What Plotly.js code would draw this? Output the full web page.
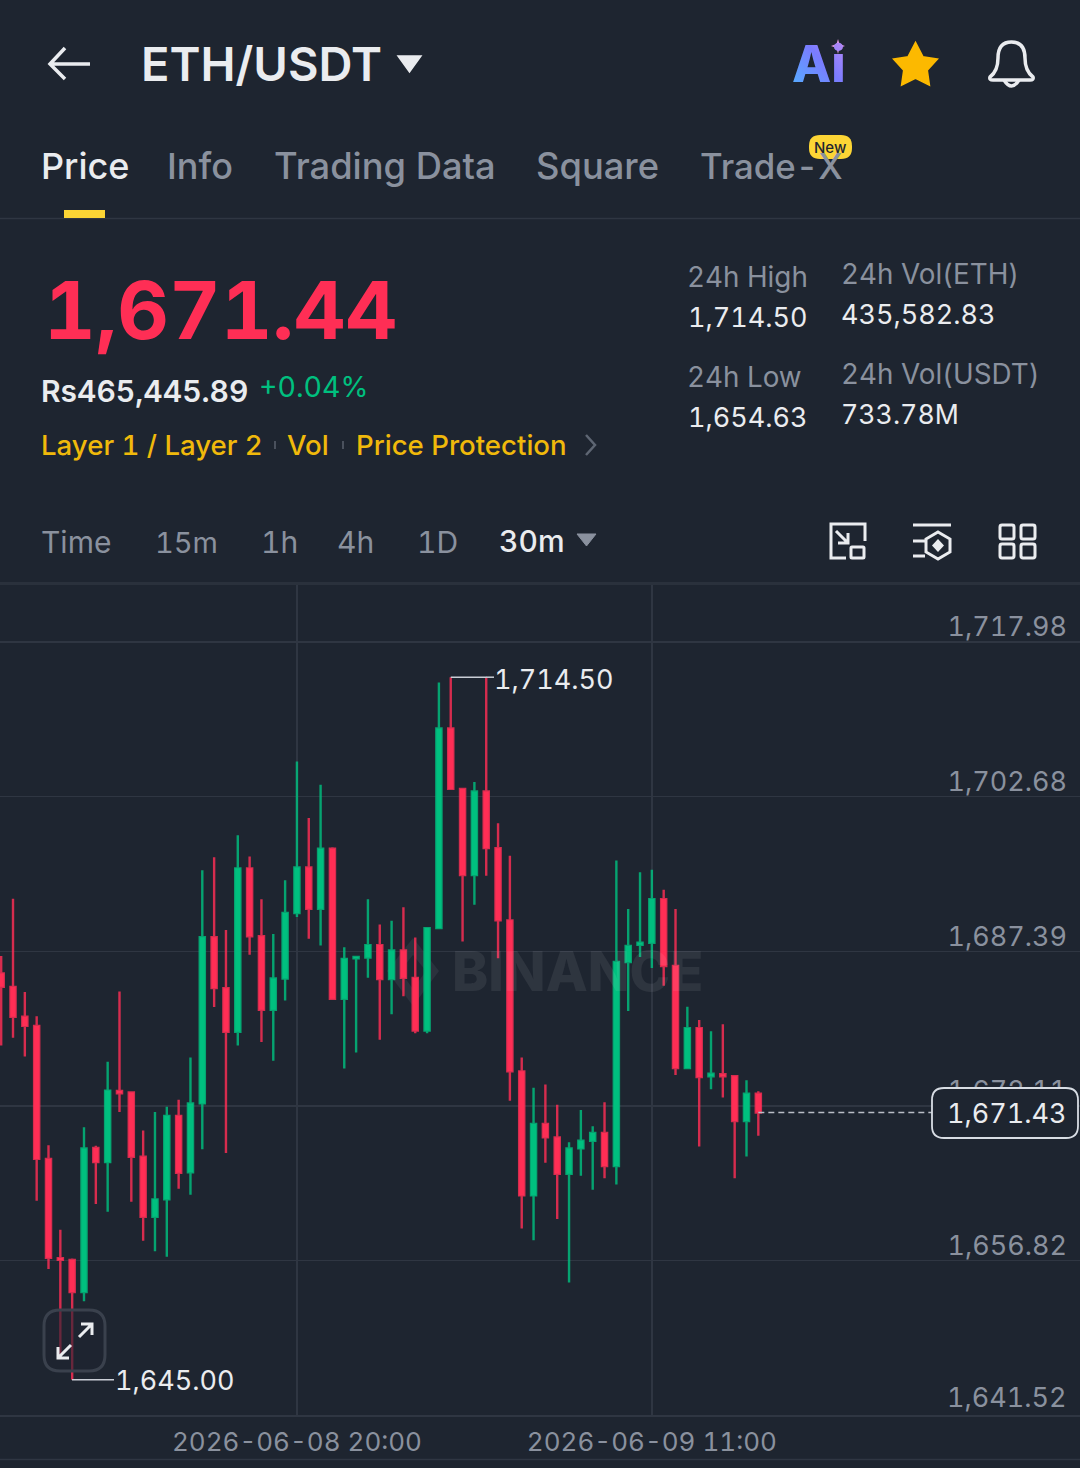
<!DOCTYPE html>
<html>
<head>
<meta charset="utf-8">
<script src="https://cdn.plot.ly/plotly-3.0.1.min.js"></script>
<style>html,body{margin:0;padding:0;background:#1e2530;overflow:hidden}#chart{width:1080px;height:1468px}
text{font-variant-numeric:tabular-nums;font-feature-settings:"tnum" 1}</style>
</head>
<body>
<div id="chart"></div>
<script>
const times = [
"2026-06-08 07:30","2026-06-08 08:00","2026-06-08 08:30","2026-06-08 09:00","2026-06-08 09:30","2026-06-08 10:00","2026-06-08 10:30",
"2026-06-08 11:00","2026-06-08 11:30","2026-06-08 12:00","2026-06-08 12:30","2026-06-08 13:00","2026-06-08 13:30","2026-06-08 14:00",
"2026-06-08 14:30","2026-06-08 15:00","2026-06-08 15:30","2026-06-08 16:00","2026-06-08 16:30","2026-06-08 17:00","2026-06-08 17:30",
"2026-06-08 18:00","2026-06-08 18:30","2026-06-08 19:00","2026-06-08 19:30","2026-06-08 20:00","2026-06-08 20:30","2026-06-08 21:00",
"2026-06-08 21:30","2026-06-08 22:00","2026-06-08 22:30","2026-06-08 23:00","2026-06-08 23:30","2026-06-09 00:00","2026-06-09 00:30",
"2026-06-09 01:00","2026-06-09 01:30","2026-06-09 02:00","2026-06-09 02:30","2026-06-09 03:00","2026-06-09 03:30","2026-06-09 04:00",
"2026-06-09 04:30","2026-06-09 05:00","2026-06-09 05:30","2026-06-09 06:00","2026-06-09 06:30","2026-06-09 07:00","2026-06-09 07:30",
"2026-06-09 08:00","2026-06-09 08:30","2026-06-09 09:00","2026-06-09 09:30","2026-06-09 10:00","2026-06-09 10:30","2026-06-09 11:00",
"2026-06-09 11:30","2026-06-09 12:00","2026-06-09 12:30","2026-06-09 13:00","2026-06-09 13:30","2026-06-09 14:00","2026-06-09 14:30",
"2026-06-09 15:00","2026-06-09 15:30"];
const open = [1685.19,1683.87,1680.92,1680.01,1666.85,1657.04,1656.86,1653.68,1667.94,1666.53,1673.57,1673.43,1667.07,1661.12,1662.85,1671.11,1665.53,1672.34,1688.78,1683.74,1679.42,1695.59,1688.87,1681.60,1684.69,1691.18,1695.68,1691.59,1697.54,1682.69,1686.69,1686.78,1688.00,1684.64,1687.46,1684.76,1679.55,1689.68,1709.42,1703.45,1694.93,1703.20,1697.59,1690.45,1675.51,1663.24,1670.31,1668.98,1665.38,1667.89,1668.65,1669.42,1666.15,1686.33,1688.03,1688.23,1692.55,1685.93,1675.84,1679.79,1675.03,1675.23,1675.03,1670.59,1673.29];
const high = [1686.91,1692.59,1683.37,1680.97,1668.21,1659.85,1656.99,1669.98,1668.16,1676.47,1683.42,1673.47,1669.66,1671.48,1672.02,1672.70,1676.88,1695.40,1696.68,1689.50,1698.86,1696.77,1692.54,1689.09,1694.41,1706.17,1700.58,1703.85,1697.68,1687.78,1686.87,1692.54,1690.05,1690.41,1691.74,1688.75,1689.68,1713.98,1714.50,1703.45,1704.13,1714.50,1700.05,1696.83,1676.89,1673.90,1674.22,1672.20,1668.49,1671.68,1670.07,1672.45,1696.38,1691.58,1695.21,1695.45,1693.48,1691.58,1681.89,1680.60,1679.47,1680.16,1675.11,1674.63,1673.54];
const low = [1678.06,1678.83,1676.97,1662.71,1655.95,1647.19,1645.00,1652.77,1662.40,1661.62,1671.48,1662.62,1658.76,1657.72,1657.17,1663.89,1663.30,1667.80,1681.87,1667.44,1678.06,1687.05,1678.42,1676.56,1682.51,1690.77,1688.64,1687.96,1682.69,1675.79,1677.38,1684.78,1678.65,1681.15,1682.94,1679.27,1679.27,1689.68,1703.45,1688.35,1691.98,1694.85,1686.69,1672.61,1659.97,1658.80,1666.47,1660.90,1654.63,1665.18,1663.81,1664.94,1664.33,1681.49,1686.82,1685.73,1683.99,1675.15,1675.84,1668.09,1673.74,1672.93,1664.94,1667.08,1669.14];
const close = [1683.87,1680.92,1680.01,1666.85,1657.08,1656.86,1653.68,1667.89,1666.53,1673.61,1673.34,1667.07,1661.12,1662.85,1671.11,1665.48,1672.34,1688.78,1683.74,1679.42,1695.59,1688.87,1681.60,1684.69,1691.18,1695.68,1691.59,1697.54,1682.69,1686.64,1686.82,1688.00,1684.64,1687.46,1684.76,1679.55,1689.68,1709.42,1703.45,1694.93,1703.20,1697.59,1690.45,1675.51,1663.24,1670.31,1668.98,1665.38,1667.89,1668.65,1669.42,1666.15,1686.33,1687.91,1688.23,1692.55,1685.93,1675.84,1679.79,1674.95,1675.27,1675.03,1670.59,1673.29,1671.43];
const priceTicks = [1717.98,1702.68,1687.39,1672.11,1656.82,1641.52];
const priceLabels = ["1,717.98","1,702.68","1,687.39","1,672.11","1,656.82","1,641.52"];
const timeTicks = ["2026-06-08 20:00","2026-06-09 11:00"];
const lastPrice = 1671.43;
const highPrice = 1714.50, lowPrice = 1645.00;

const BG='#1e2530', RED='#ff2e55', GREEN='#00c07f', GRID='#2f3642', WHITE='#eaecef', GRAY='#8a919e', GOLD='#f0b90b', YEL='#fcd535';
const FONT='Inter, "Open Sans", sans-serif';
const W=1080,H=1468;
const px=x=>x/W, py=y=>1-y/H;
// convert an SVG path in page pixels to paper coordinates
function path(d){
  const toks=d.trim().split(/\s+/);let out=[],isX=true;
  for(const t of toks){
    if(/^[A-Za-z]$/.test(t)){out.push(t);isX=true;}
    else{const v=parseFloat(t);out.push((isX?px(v):py(v)).toFixed(5));isX=!isX;}
  }
  return out.join(' ');
}
function rr(x0,y0,x1,y1,r){
  return `M ${x0+r} ${y0} L ${x1-r} ${y0} Q ${x1} ${y0} ${x1} ${y0+r} L ${x1} ${y1-r} Q ${x1} ${y1} ${x1-r} ${y1} L ${x0+r} ${y1} Q ${x0} ${y1} ${x0} ${y1-r} L ${x0} ${y0+r} Q ${x0} ${y0} ${x0+r} ${y0} Z`;
}
const S=(d,stroke,w,fill,extra)=>Object.assign({type:'path',xref:'paper',yref:'paper',path:path(d),
  line:{color:stroke||'rgba(0,0,0,0)',width:w||0},fillcolor:fill||'rgba(0,0,0,0)',layer:'above'},extra||{});
const T=(text,x,y,size,color,o)=>{
  const anchor=(o&&o.xanchor)||'left';
  return {xref:'paper',yref:'paper',x:px(anchor==='left'?x-2:x),y:py(y),text,showarrow:false,xanchor:anchor,yanchor:'middle',
    font:{family:FONT,size,color,weight:(o&&o.weight)||400},borderpad:0};
};

const annotations=[
  T('ETH/USDT',142,63.5,47,WHITE,{weight:600}),
  T('Ai',793,64,51,'#6f8cff',{weight:800}),
  T('Price',42,166,36,WHITE,{weight:500}),
  T('Info',168,166,36,GRAY,{weight:500}),
  T('Trading Data',275,166,36.3,GRAY,{weight:500}),
  T('Square',537,166,36.3,GRAY,{weight:500}),
  T('Trade-X',701,166,34.8,GRAY,{weight:500}),
  T('New',830.5,147,15,'#1e2530',{weight:500,xanchor:'center'}),
  T('1,671.44',45,310,80,RED,{weight:700}),
  T('Rs465,445.89',42,391,30,WHITE,{weight:600}),
  T('+0.04%',260,387,28.5,GREEN,{weight:400}),
  T('Layer 1 / Layer 2',42,445,27.6,GOLD,{weight:500}),
  T('Vol',288,445,27.6,GOLD,{weight:500}),
  T('Price Protection',357,445,27.6,GOLD,{weight:500}),
  T('24h High',688,277,27.8,GRAY),
  T('1,714.50',689,317,27,WHITE),
  T('24h Low',688,377,27.8,GRAY),
  T('1,654.63',689,417,27,WHITE),
  T('24h Vol(ETH)',842,274,27.8,GRAY),
  T('435,582.83',842,314,27,WHITE),
  T('24h Vol(USDT)',842,374,27.8,GRAY),
  T('733.78M',842,414,26.7,WHITE),
  T('Time',42,542,30,GRAY),
  T('15m',156,542,29,GRAY),
  T('1h',262,542,30,GRAY),
  T('4h',338,542,30,GRAY),
  T('1D',418,542,30,GRAY),
  T('30m',500,541,30,WHITE,{weight:500}),
  T('BINANCE',453,971,54.6,'rgba(255,255,255,0.075)',{weight:800}),
  T('1,671.43',948,1113.5,27,WHITE),
  Object.assign(T('1,714.50',495,0,27,WHITE),{yref:'y',y:highPrice,yshift:-2}),
  Object.assign(T('1,645.00',116,0,27,WHITE),{yref:'y',y:lowPrice,yshift:-1}),
  {xref:'paper',yref:'y',x:px(1068),y:priceTicks[5],yshift:18,text:priceLabels[5],showarrow:false,xanchor:'right',yanchor:'middle',
    borderpad:0,font:{family:FONT,size:27,color:GRAY}}
];

const shapes=[
  // header rules and tab marker
  S('M 0 218.5 L 1080 218.5',GRID,1.5),
  S('M 64 210 L 105 210 L 105 218 L 64 218 Z',null,0,YEL),
  S('M 0 583.5 L 1080 583.5','#2a313c',3),
  S('M 0 1459.5 L 1080 1459.5',GRID,1.5),
  // back arrow
  S('M 50 64 L 90 64 M 65 48 L 50 64 L 65 79',WHITE,3.5),
  // title caret
  S('M 398 56 L 421 56 L 409.5 72 Z',WHITE,1.5,WHITE),
  // sparkle
  S('M 838 39 L 839.5 44 L 845 46 L 839.5 48 L 838 54 L 836.5 48 L 831 46 L 836.5 44 Z',null,0,'#e39be0'),
  // star
  S('M 915.5 44 L 922.5 57.5 L 936 59.5 L 926.5 70 L 928.5 84 L 915.5 77.5 L 902.5 84 L 904.5 70 L 895 59.5 L 908.5 57.5 Z','#fcb900',3,'#fcb900'),
  // bell
  S('M 990 77 Q 998 71 998 58 Q 998 42 1011.5 42 Q 1025 42 1025 58 Q 1025 71 1033 77 Q 1034 80 1030 80 L 993 80 Q 989 80 990 77 Z',WHITE,3.5),
  S('M 1004 80 Q 1011.5 92 1019 80',WHITE,3.5),
  // New badge
  S(rr(809,135,852,159,11),null,0,YEL),
  // separators and chevrons
  S('M 275 441 L 275 449',"#4a515d",2),
  S('M 343 441 L 343 449',"#4a515d",2),
  S('M 586 435 L 595 445 L 586 455','#5e6673',2.5),
  S('M 577 534 L 596 534 L 586.5 546 Z',GRAY,1,GRAY),
  // toolbar icons
  S('M 865 541 L 865 524 L 831 524 L 831 558 L 846 558',WHITE,3),
  S('M 836 531 L 848 543 M 848 533 L 848 543 L 838 543',WHITE,3),
  S(rr(851,547,864,558,1),WHITE,3),
  S('M 913 525 L 951 525 M 913 541 L 925 541 M 913 556 L 925 556',WHITE,3),
  S('M 938 532 L 950 539 L 950 552 L 938 559 L 926 552 L 926 539 Z',WHITE,3),
  S('M 938 539 L 944 545.5 L 938 552 L 932 545.5 Z',null,0,WHITE),
  S(rr(1000,525,1014,539,2),WHITE,3),
  S(rr(1021,525,1035,539,2),WHITE,3),
  S(rr(1000,544,1014,558,2),WHITE,3),
  S(rr(1021,544,1035,558,2),WHITE,3),
  // watermark logo, behind the candles
  S('M 413 938 L 439 971 L 413 1006 L 387 971 Z M 413 955 L 426 971 L 413 989 L 400 971 Z',null,0,'#2b323d',{layer:'below',fillrule:'evenodd'}),
  // high / low leader lines
  {type:'line',xref:'x',yref:'y',x0:times[38],x1:times[41],y0:highPrice,y1:highPrice,line:{color:'#c9ced6',width:1.5},layer:'above'},
  {type:'line',xref:'paper',yref:'y',x0:px(486),x1:px(494),y0:highPrice,y1:highPrice,line:{color:'#c9ced6',width:1.5},layer:'above'},
  {type:'line',xref:'paper',yref:'y',x0:px(72),x1:px(114),y0:lowPrice,y1:lowPrice,line:{color:'#c9ced6',width:1.5},layer:'above'},
  // last price
  {type:'line',xref:'x',yref:'y',x0:times[64],x1:'2026-06-10 00:10',y0:lastPrice,y1:lastPrice,line:{color:'#b9bec6',width:1.5,dash:'6px,4px'},layer:'above'},
  S(rr(932,1088,1078,1138,12),'#d8dde4',1.8,BG),
  // expand button
  S(rr(44,1310,105,1371,16),'#3a414d',3,'rgba(30,37,48,0.6)'),
  S('M 58 1358 L 71 1345 M 58 1347 L 58 1358 L 69 1358',WHITE,3),
  S('M 79 1337 L 92 1324 M 81 1324 L 92 1324 L 92 1335',WHITE,3)
];

const trace={type:'candlestick',x:times,open,high,low,close,
  increasing:{line:{color:'rgba(0,192,127,0.82)',width:2.4},fillcolor:GREEN},
  decreasing:{line:{color:'rgba(255,46,85,0.82)',width:2.4},fillcolor:RED},
  whiskerwidth:0,hoverinfo:'skip',showlegend:false};

const layout={
  width:W,height:H,autosize:false,
  margin:{l:0,r:0,t:0,b:0,pad:0},
  paper_bgcolor:BG,plot_bgcolor:BG,boxgap:0.38,showlegend:false,dragmode:false,
  font:{family:FONT},
  xaxis:{type:'date',range:['2026-06-08 07:27:00','2026-06-10 05:05:42'],domain:[0,1],
    rangeslider:{visible:false},tickmode:'array',tickvals:timeTicks,tickformat:'%Y-%m-%d %H:%M',
    showgrid:true,gridcolor:GRID,gridwidth:1.5,showline:true,linecolor:GRID,linewidth:1.5,zeroline:false,
    ticks:'',ticklabelstandoff:3,tickfont:{family:FONT,size:26,color:GRAY}},
  yaxis:{range:[1641.52,1723.62],domain:[(H-1415)/H,(H-585)/H],side:'right',
    tickmode:'array',tickvals:priceTicks,ticktext:priceLabels,ticklabelposition:'inside',ticklabelstandoff:10,ticklabelshift:-15,
    showgrid:true,gridcolor:GRID,gridwidth:1.5,showline:false,zeroline:false,ticks:'',
    tickfont:{family:FONT,size:27,color:GRAY}},
  annotations,shapes
};
Plotly.newPlot('chart',[trace],layout,{staticPlot:true,displayModeBar:false}).then(()=>{
  const svg=document.querySelector('#chart .main-svg');
  const ns='http://www.w3.org/2000/svg';
  const defs=svg.querySelector('defs');
  const g=document.createElementNS(ns,'linearGradient');
  g.setAttribute('id','aiGrad');g.setAttribute('x1','0');g.setAttribute('y1','1');g.setAttribute('x2','1');g.setAttribute('y2','0');
  [['0','#4fb4ff'],['0.55','#7a7cff'],['1','#c48bf5']].forEach(([o,c])=>{const s=document.createElementNS(ns,'stop');s.setAttribute('offset',o);s.setAttribute('stop-color',c);g.appendChild(s);});
  defs.appendChild(g);
  document.querySelectorAll('#chart .annotation-text').forEach(t=>{if(t.textContent==='Ai')t.style.fill='url(#aiGrad)';});
});
</script>
</body>
</html>
